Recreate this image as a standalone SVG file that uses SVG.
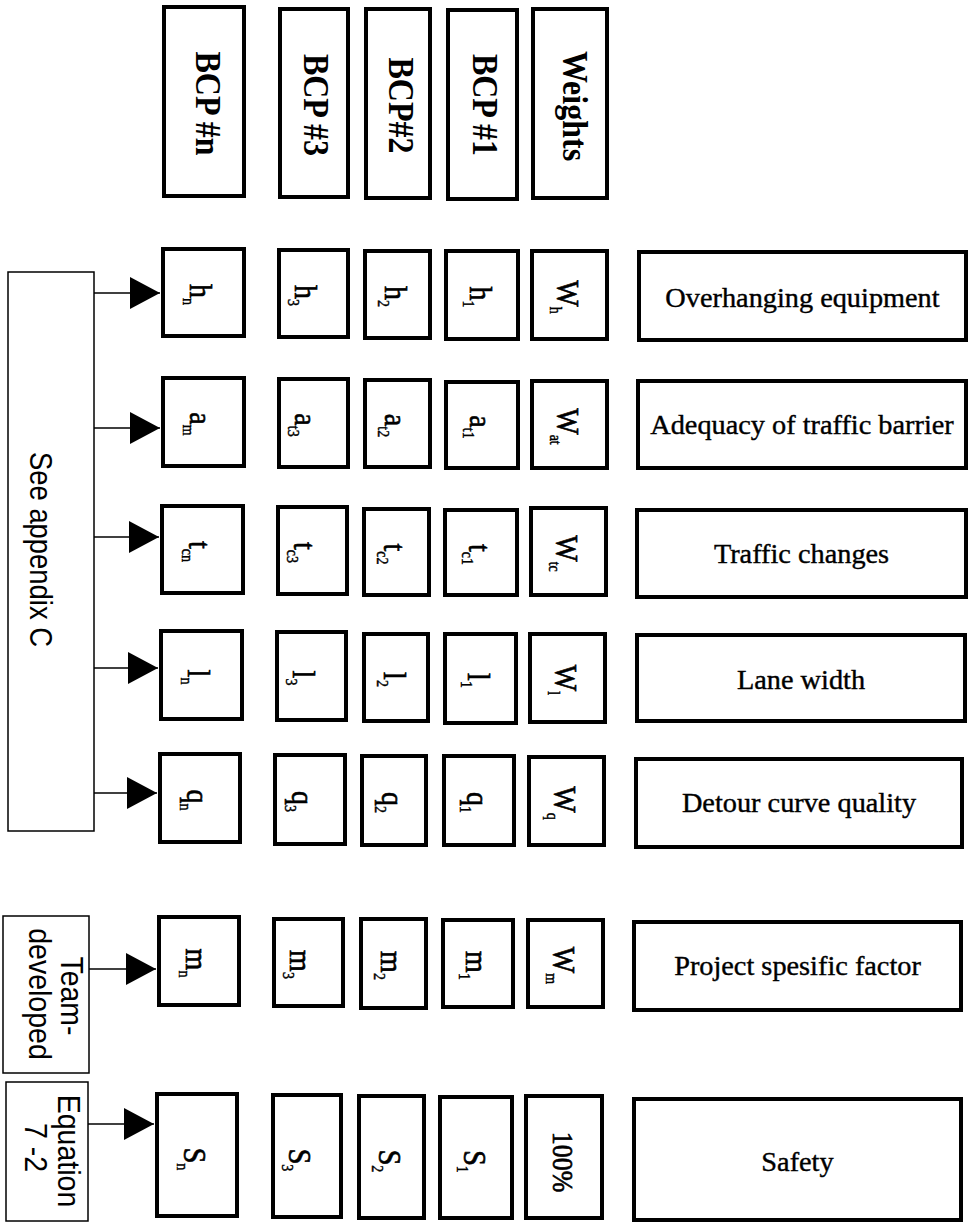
<svg xmlns="http://www.w3.org/2000/svg" width="970" height="1223" viewBox="0 0 970 1223">
<style>
.box{fill:#fff;stroke:#000;stroke-width:4}
.thin{fill:#fff;stroke:#000;stroke-width:1.5}
.conn{fill:none;stroke:#000;stroke-width:1.6}
.hdr{font-family:"Liberation Serif","Times New Roman",serif;font-weight:bold;font-size:32px;text-anchor:middle;fill:#000}
.lbl{font-family:"Liberation Serif","Times New Roman",serif;font-size:28.3px;text-anchor:middle;fill:#000;stroke:#000;stroke-width:0.4}
.sym{font-family:"Liberation Serif","Times New Roman",serif;font-size:28px;text-anchor:middle;fill:#000;stroke:#000;stroke-width:0.6}
.sub{font-size:14px;stroke-width:0.4}
.sans{font-family:"Liberation Sans",Arial,sans-serif;font-size:28.5px;text-anchor:middle;fill:#000}
</style>
<defs>
<marker id="arr" viewBox="0 0 30 32" refX="30" refY="16" markerWidth="30" markerHeight="32" markerUnits="userSpaceOnUse" orient="auto">
<path d="M0,0 L30,16 L0,32 Z" fill="#000"/>
</marker>
</defs>
<rect width="970" height="1223" fill="#fff"/>

<!-- Header column boxes -->
<g id="hdr-bcpn"><rect class="box" x="164" y="7" width="80" height="189"/><text class="hdr" transform="translate(196,103.5) rotate(90) scale(1,1.15)">BCP #n</text></g>
<g id="hdr-bcp3"><rect class="box" x="280" y="9" width="68" height="188"/><text class="hdr" transform="translate(304,105) rotate(90) scale(1,1.15)">BCP #3</text></g>
<g id="hdr-bcp2"><rect class="box" x="366" y="9" width="64" height="189"/><text class="hdr" transform="translate(389,105.5) rotate(90) scale(1,1.15)">BCP#2</text></g>
<g id="hdr-bcp1"><rect class="box" x="448" y="10" width="69" height="189"/><text class="hdr" transform="translate(473,105) rotate(90) scale(1,1.15)">BCP #1</text></g>
<g id="hdr-weights"><rect class="box" x="533" y="9" width="74" height="189"/><text class="hdr" transform="translate(563,106) rotate(90) scale(1,1.15)">Weights</text></g>

<!-- Source boxes -->
<g id="src-appendix"><rect class="thin" x="8" y="272" width="86" height="559"/><text class="sans" style="font-size:27.4px" transform="translate(30,549.5) rotate(90) scale(1,1.17)">See appendix C</text></g>
<g id="src-team"><rect class="thin" x="3" y="916" width="86" height="157"/><text class="sans" transform="translate(61,996) rotate(90) scale(1,1.1)">Team-</text><text class="sans" transform="translate(29,994) rotate(90) scale(1,1.1)">developed</text></g>
<g id="src-equation"><rect class="thin" x="6" y="1082" width="82" height="139"/><text class="sans" transform="translate(58,1151) rotate(90) scale(1,1.1)">Equation</text><text class="sans" transform="translate(25,1147.5) rotate(90) scale(1,1.1)">7 -2</text></g>

<!-- Row 1: Overhanging equipment -->
<g id="h-n"><rect class="box" x="163" y="249" width="81" height="87"/><text class="sym" transform="translate(190,294.5) rotate(90) scale(1,1.15)">h<tspan class="sub" dy="6">n</tspan></text></g>
<g id="h-3"><rect class="box" x="279" y="250" width="69" height="87"/><text class="sym" transform="translate(295,295.5) rotate(90) scale(1,1.15)">h<tspan class="sub" dy="6">3</tspan></text></g>
<g id="h-2"><rect class="box" x="365" y="251" width="65" height="87"/><text class="sym" transform="translate(385,296.5) rotate(90) scale(1,1.15)">h<tspan class="sub" dy="6">2</tspan></text></g>
<g id="h-1"><rect class="box" x="446" y="251" width="72" height="88"/><text class="sym" transform="translate(469.5,297) rotate(90) scale(1,1.15)">h<tspan class="sub" dy="6">1</tspan></text></g>
<g id="w-h"><rect class="box" x="532" y="251" width="75" height="88"/><text class="sym" transform="translate(556.5,297) rotate(90) scale(1,1.15)">W<tspan class="sub" dy="6">h</tspan></text></g>
<g id="lbl-overhanging"><rect class="box" x="639" y="252" width="327" height="88"/><text class="lbl" x="802.5" y="307">Overhanging equipment</text></g>

<!-- Row 2: Adequacy of traffic barrier -->
<g id="a-n"><rect class="box" x="163" y="378" width="81" height="88"/><text class="sym" transform="translate(190,424) rotate(90) scale(1,1.15)">a<tspan class="sub" dy="6">m</tspan></text></g>
<g id="a-3"><rect class="box" x="279" y="379" width="69" height="88"/><text class="sym" transform="translate(295,425) rotate(90) scale(1,1.15)">a<tspan class="sub" dy="6">t3</tspan></text></g>
<g id="a-2"><rect class="box" x="365" y="380" width="65" height="87"/><text class="sym" transform="translate(385,425.5) rotate(90) scale(1,1.15)">a<tspan class="sub" dy="6">t2</tspan></text></g>
<g id="a-1"><rect class="box" x="446" y="382" width="72" height="86"/><text class="sym" transform="translate(469.5,427) rotate(90) scale(1,1.15)">a<tspan class="sub" dy="6">t1</tspan></text></g>
<g id="w-at"><rect class="box" x="532" y="381" width="75" height="87"/><text class="sym" transform="translate(556.5,426.5) rotate(90) scale(1,1.15)">W<tspan class="sub" dy="6">at</tspan></text></g>
<g id="lbl-adequacy"><rect class="box" x="638" y="381" width="328" height="87"/><text class="lbl" x="802" y="434">Adequacy of traffic barrier</text></g>

<!-- Row 3: Traffic changes -->
<g id="t-n"><rect class="box" x="162" y="506" width="81" height="87"/><text class="sym" transform="translate(189,551.5) rotate(90) scale(1,1.15)">t<tspan class="sub" dy="6">cn</tspan></text></g>
<g id="t-3"><rect class="box" x="278" y="507" width="69" height="87"/><text class="sym" transform="translate(294,552.5) rotate(90) scale(1,1.15)">t<tspan class="sub" dy="6">c3</tspan></text></g>
<g id="t-2"><rect class="box" x="364" y="509" width="65" height="86"/><text class="sym" transform="translate(384,554) rotate(90) scale(1,1.15)">t<tspan class="sub" dy="6">c2</tspan></text></g>
<g id="t-1"><rect class="box" x="445" y="510" width="72" height="85"/><text class="sym" transform="translate(468.5,554.5) rotate(90) scale(1,1.15)">t<tspan class="sub" dy="6">c1</tspan></text></g>
<g id="w-tc"><rect class="box" x="531" y="508" width="75" height="87"/><text class="sym" transform="translate(555.5,553.5) rotate(90) scale(1,1.15)">W<tspan class="sub" dy="6">tc</tspan></text></g>
<g id="lbl-traffic"><rect class="box" x="637" y="510" width="329" height="87"/><text class="lbl" x="801.5" y="563">Traffic changes</text></g>

<!-- Row 4: Lane width -->
<g id="l-n"><rect class="box" x="161" y="631" width="81" height="88"/><text class="sym" transform="translate(188,677) rotate(90) scale(1,1.15)">l<tspan class="sub" dy="6">n</tspan></text></g>
<g id="l-3"><rect class="box" x="277" y="632" width="69" height="88"/><text class="sym" transform="translate(293,678) rotate(90) scale(1,1.15)">l<tspan class="sub" dy="6">3</tspan></text></g>
<g id="l-2"><rect class="box" x="364" y="634" width="64" height="87"/><text class="sym" transform="translate(383.5,679.5) rotate(90) scale(1,1.15)">l<tspan class="sub" dy="6">2</tspan></text></g>
<g id="l-1"><rect class="box" x="445" y="634" width="71" height="89"/><text class="sym" transform="translate(468,680.5) rotate(90) scale(1,1.15)">l<tspan class="sub" dy="6">1</tspan></text></g>
<g id="w-l"><rect class="box" x="530" y="634" width="75" height="88"/><text class="sym" transform="translate(554.5,680) rotate(90) scale(1,1.15)">W<tspan class="sub" dy="6">l</tspan></text></g>
<g id="lbl-lane"><rect class="box" x="637" y="635" width="328" height="86"/><text class="lbl" x="801" y="689">Lane width</text></g>

<!-- Row 5: Detour curve quality -->
<g id="q-n"><rect class="box" x="160" y="754" width="80" height="88"/><text class="sym" transform="translate(186.5,800) rotate(90) scale(1,1.15)">q<tspan class="sub" dy="6">n</tspan></text></g>
<g id="q-3"><rect class="box" x="275" y="755" width="70" height="89"/><text class="sym" transform="translate(291.5,801.5) rotate(90) scale(1,1.15)">q<tspan class="sub" dy="6">3</tspan></text></g>
<g id="q-2"><rect class="box" x="362" y="756" width="64" height="89"/><text class="sym" transform="translate(381.5,802.5) rotate(90) scale(1,1.15)">q<tspan class="sub" dy="6">2</tspan></text></g>
<g id="q-1"><rect class="box" x="444" y="756" width="70" height="89"/><text class="sym" transform="translate(466.5,802.5) rotate(90) scale(1,1.15)">q<tspan class="sub" dy="6">1</tspan></text></g>
<g id="w-q"><rect class="box" x="529" y="757" width="75" height="88"/><text class="sym" transform="translate(553.5,803) rotate(90) scale(1,1.15)">W<tspan class="sub" dy="6">q</tspan></text></g>
<g id="lbl-detour"><rect class="box" x="636" y="759" width="326" height="88"/><text class="lbl" x="799" y="812">Detour curve quality</text></g>

<!-- Row 6: Project specific factor -->
<g id="m-n"><rect class="box" x="159" y="917" width="80" height="88"/><text class="sym" transform="translate(185.5,963) rotate(90) scale(1,1.15)">m<tspan class="sub" dy="6">n</tspan></text></g>
<g id="m-3"><rect class="box" x="274" y="919" width="69" height="87"/><text class="sym" transform="translate(290,964.5) rotate(90) scale(1,1.15)">m<tspan class="sub" dy="6">3</tspan></text></g>
<g id="m-2"><rect class="box" x="361" y="919" width="65" height="89"/><text class="sym" transform="translate(381,965.5) rotate(90) scale(1,1.15)">m<tspan class="sub" dy="6">2</tspan></text></g>
<g id="m-1"><rect class="box" x="443" y="920" width="70" height="87"/><text class="sym" transform="translate(465.5,965.5) rotate(90) scale(1,1.15)">m<tspan class="sub" dy="6">1</tspan></text></g>
<g id="w-m"><rect class="box" x="528" y="920" width="75" height="87"/><text class="sym" transform="translate(552.5,965.5) rotate(90) scale(1,1.15)">W<tspan class="sub" dy="6">m</tspan></text></g>
<g id="lbl-project"><rect class="box" x="634" y="922" width="327" height="88"/><text class="lbl" x="797.5" y="975">Project spesific factor</text></g>

<!-- Row 7: Safety -->
<g id="s-n"><rect class="box" x="157" y="1094" width="80" height="122"/><text class="sym" transform="translate(183.5,1159) rotate(90) scale(1,1.15)">S<tspan class="sub" dy="6">n</tspan></text></g>
<g id="s-3"><rect class="box" x="273" y="1095" width="68" height="122"/><text class="sym" transform="translate(288.5,1160) rotate(90) scale(1,1.15)">S<tspan class="sub" dy="6">3</tspan></text></g>
<g id="s-2"><rect class="box" x="359" y="1096" width="65" height="122"/><text class="sym" transform="translate(379,1161) rotate(90) scale(1,1.15)">S<tspan class="sub" dy="6">2</tspan></text></g>
<g id="s-1"><rect class="box" x="440" y="1097" width="72" height="121"/><text class="sym" transform="translate(463.5,1161.5) rotate(90) scale(1,1.15)">S<tspan class="sub" dy="6">1</tspan></text></g>
<g id="w-total"><rect class="box" x="526" y="1096" width="76" height="122"/><text class="sym" style="font-size:26px" transform="translate(553,1162) rotate(90) scale(1,1.15)">100%</text></g>
<g id="lbl-safety"><rect class="box" x="634" y="1099" width="327" height="121"/><text class="lbl" x="797.5" y="1171">Safety</text></g>

<!-- Connectors -->
<g id="connectors">
<path class="conn" d="M94,293 H160" marker-end="url(#arr)"/>
<path class="conn" d="M94,428 H160" marker-end="url(#arr)"/>
<path class="conn" d="M94,537 H159" marker-end="url(#arr)"/>
<path class="conn" d="M94,668 H158" marker-end="url(#arr)"/>
<path class="conn" d="M94,793 H157" marker-end="url(#arr)"/>
<path class="conn" d="M89,969 H156" marker-end="url(#arr)"/>
<path class="conn" d="M88,1124 H154" marker-end="url(#arr)"/>
</g>
</svg>
